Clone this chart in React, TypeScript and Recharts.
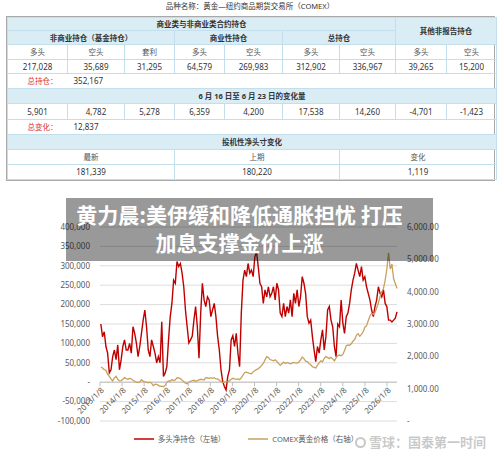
import React from 'react'
import {
  CartesianGrid,
  Legend,
  Line,
  LineChart,
  ReferenceDot,
  ReferenceLine,
  XAxis,
  YAxis,
} from 'recharts'

// COT table (COMEX gold, report of 2026/6/23)
const POSITION_LABELS = ['多头', '空头', '套利', '多头', '空头', '多头', '空头', '多头', '空头']
const POSITIONS = [217028, 35689, 31295, 64579, 269983, 312902, 336967, 39265, 15200]
const WEEKLY_CHANGES = [5901, 4782, 5278, 6359, 4200, 17538, 14260, -4701, -1423]
const TOTAL_OPEN_INTEREST = 352167
const TOTAL_CHANGE = 12837
const NET_LABELS = ['最新', '上期', '变化']
const NET_VALUES = [181339, 180220, 1119]

const TITLE_LINES = ['黄力晨:美伊缓和降低通胀担忧 打压', '加息支撑金价上涨']

// chart series, one value every 4 weekly reports, ending at the latest report
const NET_LONG = [
  150000, 117000, 130000, 92000, 75000, 24000, 32000, 66000, 83000, 58000,
  96000, 32000, 58000, 92000, 109000, 83000, 83000, 100000, 75000, 143000,
  126000, 101000, 66000, 92000, 126000, 160000, 186000, 143000, 83000, 66000,
  109000, 92000, 75000, 50000, 66000, 50000, 156000, 15000, 24000, 40000,
  109000, 169000, 203000, 263000, 255000, 311000, 298000, 306000, 281000, 246000,
  186000, 143000, 101000, 109000, 118000, 160000, 195000, 143000, 62000, 178000,
  255000, 212000, 195000, 220000, 212000, 169000, 186000, 203000, 169000, 118000,
  83000, 32000, 2000, -11000, -20000, 15000, 32000, 109000, 120000, 92000,
  126000, 75000, 40000, 178000, 263000, 289000, 272000, 306000, 281000, 289000,
  272000, 323000, 336000, 298000, 255000, 246000, 203000, 238000, 220000, 246000,
  220000, 229000, 246000, 212000, 255000, 238000, 178000, 169000, 203000, 169000,
  195000, 178000, 212000, 169000, 229000, 203000, 238000, 195000, 220000, 272000,
  255000, 229000, 169000, 152000, 160000, 118000, 83000, 53000, 92000, 75000,
  109000, 135000, 83000, 118000, 186000, 195000, 160000, 143000, 92000, 66000,
  150000, 143000, 212000, 152000, 126000, 169000, 178000, 203000, 238000, 263000,
  281000, 306000, 289000, 272000, 298000, 263000, 272000, 246000, 229000, 212000,
  186000, 169000, 195000, 212000, 246000, 229000, 220000, 238000, 203000, 195000,
  160000, 160000, 155000, 160000, 165000, 181339,
]
const GOLD = [
  1670, 1640, 1590, 1570, 1450, 1380, 1300, 1240, 1330, 1380,
  1290, 1240, 1250, 1290, 1340, 1310, 1290, 1320, 1300, 1260,
  1230, 1200, 1190, 1210, 1280, 1230, 1210, 1200, 1180, 1200,
  1170, 1090, 1140, 1130, 1100, 1070, 1080, 1060, 1100, 1200,
  1240, 1230, 1280, 1250, 1270, 1340, 1330, 1310, 1260, 1220,
  1170, 1150, 1200, 1230, 1250, 1260, 1230, 1250, 1270, 1290,
  1280, 1270, 1340, 1330, 1320, 1340, 1320, 1340, 1300, 1300,
  1260, 1220, 1190, 1200, 1210, 1220, 1250, 1290, 1320, 1300,
  1290, 1300, 1280, 1340, 1420, 1500, 1510, 1490, 1470, 1460,
  1520, 1560, 1590, 1620, 1660, 1720, 1780, 1890, 1990, 1960,
  1900, 1880, 1860, 1890, 1840, 1780, 1720, 1770, 1820, 1780,
  1810, 1790, 1770, 1790, 1810, 1800, 1790, 1820, 1890, 1980,
  1930, 1850, 1840, 1780, 1740, 1680, 1660, 1640, 1730, 1800,
  1860, 1830, 1940, 1990, 1960, 1930, 1970, 1920, 1860, 1950,
  2020, 2040, 2020, 2060, 2180, 2330, 2350, 2340, 2390, 2470,
  2520, 2650, 2700, 2620, 2680, 2760, 2900, 2950, 3100, 3250,
  3330, 3300, 3350, 3500, 3650, 3850, 4000, 4100, 4350, 4700,
  5200, 4700, 4850, 4400, 4250, 4100,
]
const TICK_YEARS = [2013, 2014, 2015, 2016, 2017, 2018, 2019, 2020, 2021, 2022, 2023, 2024, 2025, 2026]
const LEFT_TICKS = [-100000, -50000, 0, 50000, 100000, 150000, 200000, 250000, 300000, 350000, 400000]
const RIGHT_TICKS = [0, 1000, 2000, 3000, 4000, 5000, 6000]
const LEGEND_ORDER = ['netLong', 'gold']

const DAY = 24 * 3600 * 1000
const FIRST_TICK = Date.UTC(2013, 0, 8)
const LAST_REPORT = Date.UTC(2026, 5, 23)

const chartData = NET_LONG.map((v, i) => ({
  t: LAST_REPORT - (NET_LONG.length - 1 - i) * 28 * DAY,
  netLong: v,
  gold: GOLD[i],
}))

const FONT = "'Noto Sans', 'Noto Sans CJK SC', sans-serif"
const HEAD_BG = '#daedf5'
const LINE = '#c3dfeb'
const RED = '#c00000'
const GOLD_COLOR = '#c8a15d'
const AXIS_TEXT = '#595959'

const fmt = (v: number) => v.toLocaleString('en-US')
const fmtLeft = (v: number) => (v === 0 ? '-' : fmt(v))
const fmtRight = (v: number) =>
  v === 0 ? '-' : v.toLocaleString('en-US', { minimumFractionDigits: 2 })

const COL_WIDTHS = [60, 57, 50, 50, 58, 57, 56, 51, 50]

const cell: React.CSSProperties = {
  border: `1px solid ${LINE}`,
  padding: 0,
  textAlign: 'center',
  whiteSpace: 'nowrap',
  overflow: 'hidden',
  fontSize: 8,
  color: '#333',
  lineHeight: '10px',
}
const head: React.CSSProperties = { ...cell, background: HEAD_BG, fontWeight: 'bold', fontSize: 7.5 }
const label: React.CSSProperties = { ...cell, fontSize: 7.5, color: '#555' }

function CotTable() {
  return (
    <div style={{ position: 'absolute', left: 6, top: 16, width: 489, border: '1px solid #a9a9a9', boxSizing: 'border-box' }}>
      <table style={{ borderCollapse: 'collapse', tableLayout: 'fixed', width: 487 }}>
        <colgroup>
          {COL_WIDTHS.map((w, i) => (
            <col key={i} style={{ width: w }} />
          ))}
        </colgroup>
        <tbody>
          <tr style={{ height: 13 }}>
            <td colSpan={7} style={head}>商业类与非商业类合约持仓</td>
            <td colSpan={2} rowSpan={2} style={head}>其他非报告持仓</td>
          </tr>
          <tr style={{ height: 14 }}>
            <td colSpan={3} style={head}>非商业持仓（基金持仓）</td>
            <td colSpan={2} style={head}>商业性持仓</td>
            <td colSpan={2} style={head}>总持仓</td>
          </tr>
          <tr style={{ height: 15 }}>
            {POSITION_LABELS.map((s, i) => (
              <td key={i} style={label}>{s}</td>
            ))}
          </tr>
          <tr style={{ height: 14 }}>
            {POSITIONS.map((v, i) => (
              <td key={i} style={cell}>{fmt(v)}</td>
            ))}
          </tr>
          <tr style={{ height: 15 }}>
            <td style={{ ...label, color: '#e03131', textAlign: 'right', paddingRight: 10, borderRight: 'none' }}>总持仓：</td>
            <td colSpan={8} style={{ ...cell, textAlign: 'left', paddingLeft: 6, borderLeft: 'none' }}>{fmt(TOTAL_OPEN_INTEREST)}</td>
          </tr>
          <tr style={{ height: 15 }}>
            <td colSpan={9} style={head}>6 月 16 日至 6 月 23 日的变化量</td>
          </tr>
          <tr style={{ height: 16 }}>
            {WEEKLY_CHANGES.map((v, i) => (
              <td key={i} style={cell}>{fmt(v)}</td>
            ))}
          </tr>
          <tr style={{ height: 15 }}>
            <td style={{ ...label, color: '#e03131', textAlign: 'right', paddingRight: 10, borderRight: 'none' }}>总变化：</td>
            <td colSpan={8} style={{ ...cell, textAlign: 'left', paddingLeft: 6, borderLeft: 'none' }}>{fmt(TOTAL_CHANGE)}</td>
          </tr>
          <tr style={{ height: 15 }}>
            <td colSpan={9} style={head}>投机性净头寸变化</td>
          </tr>
          <tr style={{ height: 15 }}>
            {NET_LABELS.map((s, i) => (
              <td key={i} colSpan={3} style={label}>{s}</td>
            ))}
          </tr>
          <tr style={{ height: 15 }}>
            {NET_VALUES.map((v, i) => (
              <td key={i} colSpan={3} style={cell}>{fmt(v)}</td>
            ))}
          </tr>
        </tbody>
      </table>
    </div>
  )
}

// year label hanging under the zero line, like the excel date axis
const YearTick = (props: any) => {
  const { cx, cy, text } = props
  const ax = cx + 2
  const ay = cy + 6
  return (
    <g>
      <line x1={cx} y1={cy} x2={cx} y2={cy + 4} stroke="#bfbfbf" />
      <text
        x={ax}
        y={ay}
        textAnchor="end"
        dominantBaseline="central"
        fontSize={8}
        fill={AXIS_TEXT}
        transform={`rotate(-45 ${ax} ${ay})`}
      >
        {text}
      </text>
    </g>
  )
}

const LegendContent = (props: any) => {
  const items = [...(props.payload || [])].sort(
    (a: any, b: any) => LEGEND_ORDER.indexOf(a.dataKey) - LEGEND_ORDER.indexOf(b.dataKey),
  )
  return (
    <div style={{ display: 'flex', justifyContent: 'center', alignItems: 'center', gap: 23, paddingRight: 8 }}>
      {items.map((p: any) => (
        <div key={p.value} style={{ display: 'flex', alignItems: 'center', gap: 4 }}>
          <svg width={20} height={6}>
            <line x1={0} y1={3} x2={20} y2={3} stroke={p.color} strokeWidth={1.5} />
          </svg>
          <span style={{ fontSize: 7.5, color: AXIS_TEXT, lineHeight: '10px' }}>{p.value}</span>
        </div>
      ))}
    </div>
  )
}

export default function App() {
  return (
    <div
      style={{
        position: 'absolute',
        left: 0,
        top: 0,
        width: 500,
        height: 460,
        background: '#fff',
        overflow: 'hidden',
        fontFamily: FONT,
      }}
    >
      <div style={{ position: 'absolute', left: 0, top: 1, width: 500, textAlign: 'center', fontSize: 7.5, color: '#333', lineHeight: '10px' }}>
        品种名称：黄金—纽约商品期货交易所（COMEX）
      </div>
      <CotTable />

      <div style={{ position: 'absolute', left: 0, top: 215 }}>
        <LineChart width={500} height={245} data={chartData} margin={{ top: 12, right: 0, bottom: 39, left: 0 }}>
          <CartesianGrid yAxisId="left" vertical={false} stroke="#dcdcdc" />
          <XAxis dataKey="t" type="number" domain={[FIRST_TICK, LAST_REPORT]} hide />
          <YAxis
            yAxisId="left"
            domain={[-100000, 400000]}
            ticks={LEFT_TICKS}
            interval={0}
            width={100}
            axisLine={false}
            tickLine={false}
            tickMargin={4}
            tick={{ fontSize: 8, fill: AXIS_TEXT }}
            tickFormatter={fmtLeft}
          />
          <YAxis
            yAxisId="right"
            orientation="right"
            domain={[0, 6000]}
            ticks={RIGHT_TICKS}
            interval={0}
            width={103}
            axisLine={false}
            tickLine={false}
            tickMargin={4}
            tick={{ fontSize: 8, fill: AXIS_TEXT }}
            tickFormatter={fmtRight}
          />
          <ReferenceLine yAxisId="left" y={0} stroke="#bfbfbf" />
          {TICK_YEARS.map((y) => (
            <ReferenceDot
              key={y}
              yAxisId="left"
              x={Date.UTC(y, 0, 8)}
              y={0}
              r={0}
              shape={(p: any) => <YearTick {...p} text={`${y}/1/8`} />}
            />
          ))}
          <Line
            yAxisId="left"
            dataKey="netLong"
            name="多头净持仓（左轴）"
            stroke={RED}
            strokeWidth={1.4}
            dot={false}
            isAnimationActive={false}
          />
          <Line
            yAxisId="right"
            dataKey="gold"
            name="COMEX黄金价格（右轴）"
            stroke={GOLD_COLOR}
            strokeWidth={1.3}
            dot={false}
            isAnimationActive={false}
          />
          <Legend
            verticalAlign="middle"
            align="center"
            wrapperStyle={{ top: 219, left: 0, width: 500 }}
            content={LegendContent}
          />
        </LineChart>
      </div>

      <div
        style={{
          position: 'absolute',
          left: 66,
          top: 198,
          width: 367,
          height: 63,
          boxSizing: 'border-box',
          paddingTop: 2,
          paddingRight: 20,
          background: 'rgba(0,0,0,0.4)',
          color: '#fff',
          fontFamily: "'Noto Sans CJK SC', sans-serif",
          fontWeight: 'bold',
          fontSize: 21,
          lineHeight: '28px',
          textAlign: 'center',
          whiteSpace: 'nowrap',
        }}
      >
        {TITLE_LINES.map((s) => (
          <div key={s}>{s}</div>
        ))}
      </div>

      <div
        style={{
          position: 'absolute',
          left: 355,
          top: 434,
          display: 'flex',
          alignItems: 'center',
          gap: 3,
          color: 'rgba(110,110,110,0.38)',
          fontFamily: "'Noto Sans CJK SC', sans-serif",
          fontWeight: 'bold',
          fontSize: 13,
          lineHeight: '16px',
          whiteSpace: 'nowrap',
        }}
      >
        <div style={{ width: 11, height: 11, borderRadius: '50%', border: '2px solid rgba(110,110,110,0.38)', boxSizing: 'border-box' }} />
        <span>雪球：国泰第一时间</span>
      </div>
    </div>
  )
}
